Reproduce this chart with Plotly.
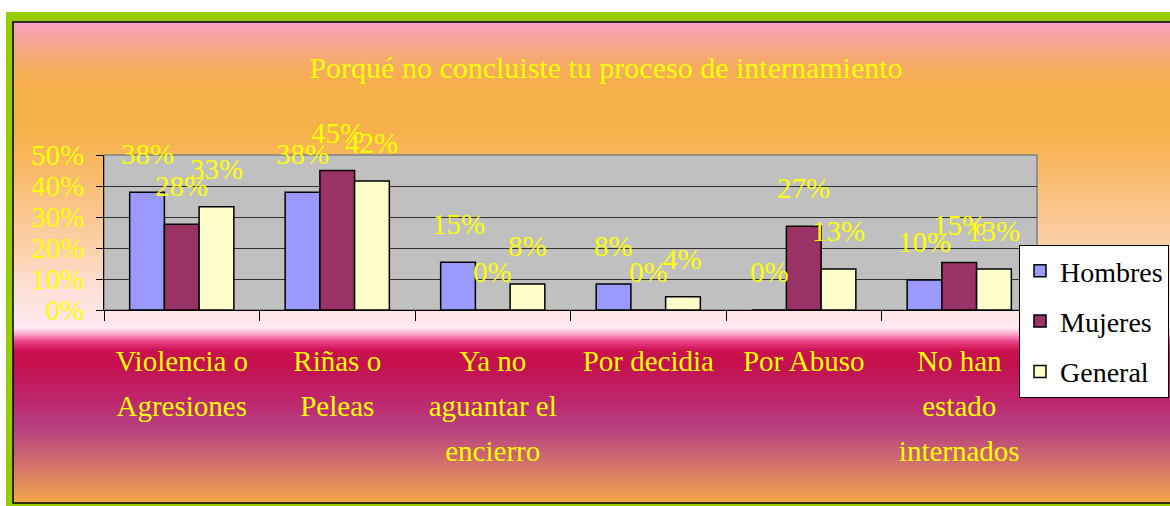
import plotly.graph_objects as go

# ---------------- data ----------------
categories = ["Violencia o Agresiones", "Riñas o Peleas", "Ya no aguantar el encierro",
              "Por decidia", "Por Abuso", "No han estado internados"]
tick_lines = [["Violencia o", "Agresiones"], ["Riñas o", "Peleas"],
              ["Ya no", "aguantar el", "encierro"], ["Por decidia"], ["Por Abuso"],
              ["No han", "estado", "internados"]]
series_names = ["Hombres", "Mujeres", "General"]
hombres = [0.38, 0.38, 0.154, 0.084, 0.0, 0.097]
mujeres = [0.277, 0.45, 0.0, 0.0, 0.27, 0.153]
general = [0.333, 0.416, 0.084, 0.043, 0.132, 0.132]
y_ticks = [0, 0.1, 0.2, 0.3, 0.4, 0.5]
title_text = "Porqué no concluiste tu proceso de internamiento"

# ---------------- styles ----------------
W, H = 1170, 506
PL, PR, PT, PB = 104, 1037, 155, 310          # plot area in pixels
PW, PH = PR - PL, PB - PT
FONT = "Liberation Serif"
YEL = "#FFFF00"
colors = ["#9999FF", "#993366", "#FFFFCC"]
BARGAP = 0.33
TXT = 29            # visible text size
LINE_PX = 45        # line pitch of the category labels

tick_text = ["<br>".join(f'<span style="font-size:{TXT}px">{ln}</span>' for ln in lines)
             for lines in tick_lines]


def fx(px):
    return (px - PL) / PW


def fy(py):
    return (PB - py) / PH


# vertical background gradient stops (pixel y, rgb)
stops = [
    (22, (249, 160, 198)), (45, (247, 166, 140)), (70, (246, 172, 92)),
    (90, (246, 176, 72)), (130, (247, 177, 74)), (170, (248, 186, 104)),
    (210, (250, 197, 142)), (250, (252, 210, 172)), (290, (254, 224, 216)),
    (322, (255, 230, 236)), (328, (255, 236, 242)), (334, (250, 165, 204)),
    (341, (238, 72, 140)), (350, (202, 18, 80)), (365, (196, 16, 78)),
    (400, (190, 38, 110)), (428, (182, 64, 128)), (455, (204, 100, 112)),
    (480, (222, 136, 96)), (503, (244, 168, 72)),
]


def grad_color(y):
    for (y0, c0), (y1, c1) in zip(stops[:-1], stops[1:]):
        if y0 <= y <= y1:
            t = (y - y0) / (y1 - y0)
            return "rgb(%d,%d,%d)" % tuple(round(a + (b - a) * t) for a, b in zip(c0, c1))
    return "rgb(%d,%d,%d)" % stops[-1][1]


shapes = []
# green frame
shapes.append(dict(type="rect", xref="paper", yref="paper", layer="below",
                   x0=fx(6), x1=fx(1180), y0=fy(12), y1=fy(512),
                   fillcolor="#99CC00", line=dict(width=0)))
# gradient strips
step = 2
y = 22
while y < 503:
    shapes.append(dict(type="rect", xref="paper", yref="paper", layer="below",
                       x0=fx(13), x1=fx(1180), y0=fy(y), y1=fy(min(y + step + 0.6, 503)),
                       fillcolor=grad_color(y + step / 2), line=dict(width=0)))
    y += step
# inner black border
shapes.append(dict(type="rect", xref="paper", yref="paper", layer="below",
                   x0=fx(13), x1=fx(1180), y0=fy(22), y1=fy(503),
                   fillcolor="rgba(0,0,0,0)", line=dict(color="#000000", width=1.5)))
# plot area
shapes.append(dict(type="rect", xref="paper", yref="paper", layer="below",
                   x0=0, x1=1, y0=0, y1=1,
                   fillcolor="#C0C0C0", line=dict(color="#808080", width=1.5)))

fig = go.Figure()
all_series = [hombres, mujeres, general]
for i, (name, vals) in enumerate(zip(series_names, all_series)):
    fig.add_trace(go.Bar(
        x=categories, y=vals, name=name, legendgroup=name,
        marker=dict(color=colors[i], line=dict(color="#000000", width=1.5)),
    ))

# data labels
bar_w = PW / len(categories) * (1 - BARGAP) / 3
annotations = []
for i, vals in enumerate(all_series):
    for c, v in zip(categories, vals):
        annotations.append(dict(
            x=c, y=v, xref="x", yref="y", text=f"{v:.0%}", showarrow=False,
            xshift=(i - 1) * bar_w, yshift=38, yanchor="middle", xanchor="center",
            font=dict(family=FONT, size=TXT, color=YEL)))

fig.update_layout(
    width=W, height=H,
    margin=dict(l=PL, r=W - PR, t=PT, b=H - PB, pad=0, autoexpand=False),
    paper_bgcolor="#FFFFFF", plot_bgcolor="rgba(0,0,0,0)",
    barmode="group", bargap=BARGAP, bargroupgap=0,
    shapes=shapes, annotations=annotations,
    title=dict(text=title_text, x=606 / W, xref="container", xanchor="center",
               y=1 - 67 / H, yref="container", yanchor="middle",
               font=dict(family=FONT, size=30, color=YEL)),
    legend=dict(x=fx(1019), y=fy(245), xanchor="left", yanchor="top",
                bgcolor="#FFFFFF", bordercolor="#000000", borderwidth=1,
                font=dict(family=FONT, size=28, color="#000000"),
                tracegroupgap=11, itemwidth=30),
    xaxis=dict(type="category", tickvals=categories, ticktext=tick_text,
               tickson="boundaries", ticks="outside", ticklen=10, tickcolor="#000000",
               showline=True, linecolor="#000000", linewidth=1, showgrid=False,
               ticklabelstandoff=18,
               tickfont=dict(family=FONT, size=LINE_PX / 1.3, color=YEL), tickangle=0),
    yaxis=dict(range=[0, 0.5], tickvals=y_ticks, tickformat=".0%",
               ticks="outside", ticklen=7, tickcolor="#000000",
               showline=True, linecolor="#000000", linewidth=1,
               showgrid=True, gridcolor="#303030", gridwidth=1, zeroline=False,
               ticklabelstandoff=6,
               tickfont=dict(family=FONT, size=TXT, color=YEL)),
    showlegend=True,
)

fig.write_html("out.html", config={"displayModeBar": False},
               post_script="document.body.style.margin='0';document.body.style.overflow='hidden';")
